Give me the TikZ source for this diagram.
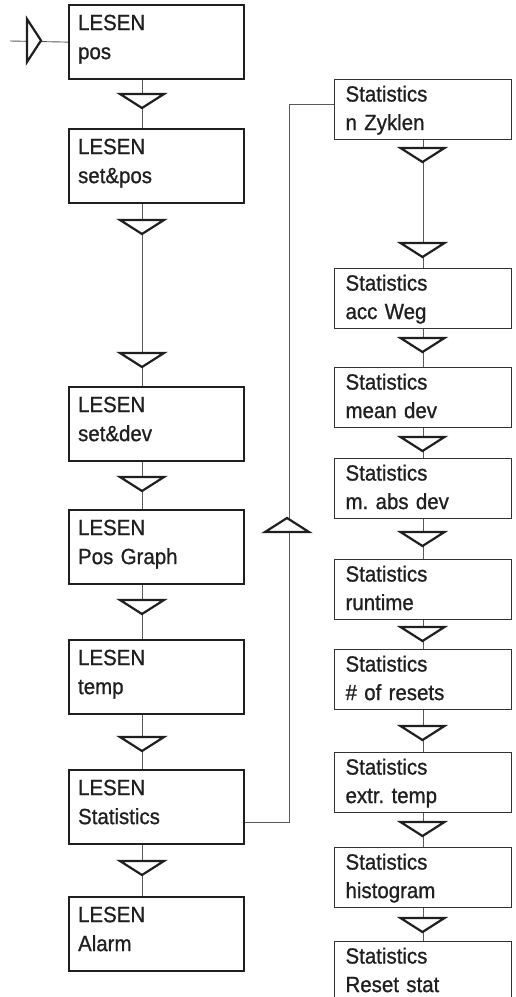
\documentclass[tikz,border=0pt]{standalone}
\usepackage{fontspec}
\setmainfont{Liberation Sans}[FakeStretch=0.93,FakeBold=0.9]
\frenchspacing
\newcommand\boxL[2]{\rule{0pt}{25pt}#1\\#2\rule[-20pt]{0pt}{20pt}}
\newcommand\boxR[2]{\rule{0pt}{22pt}#1\\#2\rule[-9.5pt]{0pt}{9.5pt}}
\begin{document}
\begin{tikzpicture}[x=1pt,y=-1pt,
  lbox/.style={draw=black!88, line width=2.2pt, anchor=north west, minimum width=175pt,
    text width=157pt, inner xsep=9pt, inner ysep=0pt, align=left,
    font=\fontsize{22}{29}\selectfont, text=black!88},
  rbox/.style={draw=black!80, line width=1.1pt, anchor=north west, minimum width=177pt,
    text width=155pt, inner xsep=11pt, inner ysep=0pt, align=left,
    font=\fontsize{22}{28.5}\selectfont, text=black!88},
  conn/.style={draw=black!65, line width=0.9pt},
  tri/.style={draw=black!88, fill=white, line width=2.2pt, line join=miter},
  dtri/.pic={\path[tri] (-22,0) -- (22,0) -- (0,14) -- cycle;},
  utri/.pic={\path[tri] (0,0) -- (22,14) -- (-22,14) -- cycle;},
  rtri/.pic={\path[tri] (0,-21.5) -- (0,21.5) -- (14,0) -- cycle;}
]
\useasboundingbox (0,0) rectangle (516,997);
\clip (0,0) rectangle (516,997);

% left column
\node[lbox] (b1) at (68,4)   {\boxL{LESEN}{pos}};
\node[lbox] (b2) at (68,128) {\boxL{LESEN}{set\&pos}};
\node[lbox] (b3) at (68,386) {\boxL{LESEN}{set\&dev}};
\node[lbox] (b4) at (68,509) {\boxL{LESEN}{Pos Graph}};
\node[lbox] (b5) at (68,639) {\boxL{LESEN}{temp}};
\node[lbox] (b6) at (68,769) {\boxL{LESEN}{Statistics}};
\node[lbox] (b7) at (68,896) {\boxL{LESEN}{Alarm}};

% right column
\node[rbox] (r1) at (334,79)  {\boxR{Statistics}{n Zyklen}};
\node[rbox] (r2) at (334,268) {\boxR{Statistics}{acc Weg}};
\node[rbox] (r3) at (334,367) {\boxR{Statistics}{mean dev}};
\node[rbox] (r4) at (334,458) {\boxR{Statistics}{m. abs dev}};
\node[rbox] (r5) at (334,559) {\boxR{Statistics}{runtime}};
\node[rbox] (r6) at (334,649) {\boxR{Statistics}{\# of resets}};
\node[rbox] (r7) at (334,752) {\boxR{Statistics}{extr. temp}};
\node[rbox] (r8) at (334,847) {\boxR{Statistics}{histogram}};
\node[rbox] (r9) at (334,941) {\boxR{Statistics}{Reset stat}};

% entry
\coordinate (in) at (10,41);
\draw[conn] (in) -- (b1.west);
\pic at (27,40.5) {rtri};

% left connectors
\coordinate (lx) at (142,0);
\draw[conn] (b1.south -| lx) -- (b2.north -| lx);
\draw[conn] (b2.south -| lx) -- (b3.north -| lx);
\draw[conn] (b3.south -| lx) -- (b4.north -| lx);
\draw[conn] (b4.south -| lx) -- (b5.north -| lx);
\draw[conn] (b5.south -| lx) -- (b6.north -| lx);
\draw[conn] (b6.south -| lx) -- (b7.north -| lx);
\foreach \y in {94,220,353,477,600,737,861} { \pic at (142,\y) {dtri}; }

% right connectors
\draw[conn] (r1.south) -- (r2.north);
\draw[conn] (r2.south) -- (r3.north);
\draw[conn] (r3.south) -- (r4.north);
\draw[conn] (r4.south) -- (r5.north);
\draw[conn] (r5.south) -- (r6.north);
\draw[conn] (r6.south) -- (r7.north);
\draw[conn] (r7.south) -- (r8.north);
\draw[conn] (r8.south) -- (r9.north);
\foreach \y in {148,243,338,437,532,627,726,822,918} { \pic at (422.5,\y) {dtri}; }

% feedback
\draw[conn] ([yshift=-15pt]b6.east) -- ++(44,0) |- ([yshift=5pt]r1.west);
\pic at (287,518) {utri};
\end{tikzpicture}
\end{document}
